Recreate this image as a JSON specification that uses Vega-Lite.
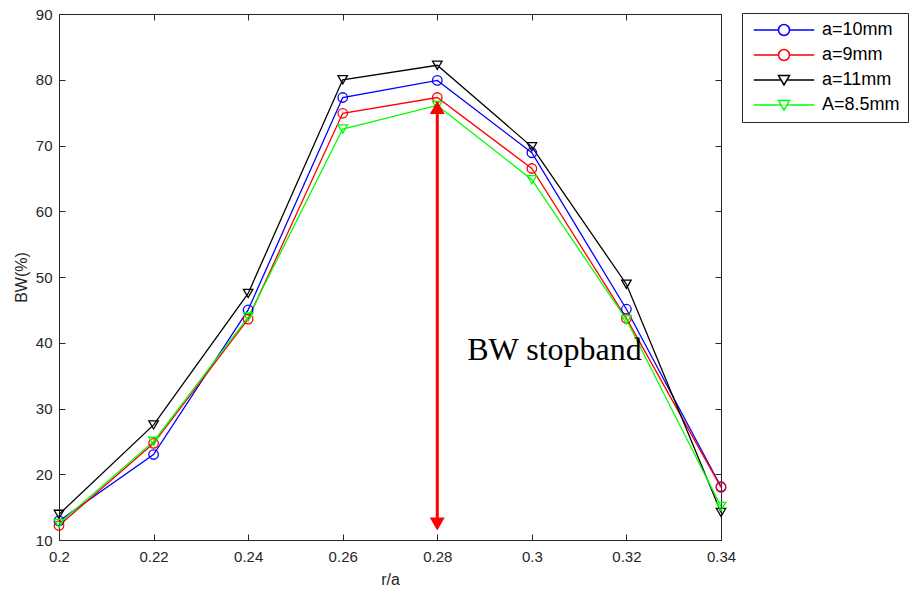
{
  "$schema": "https://vega.github.io/schema/vega-lite/v6.json",
  "autosize": "none",
  "width": 662,
  "height": 526,
  "padding": {"left": 59, "top": 14, "right": 190, "bottom": 50},
  "background": "white",
  "config": {
    "view": {"stroke": "#262626", "strokeWidth": 1},
    "axis": {
      "domainColor": "#262626", "tickColor": "#262626", "labelColor": "#262626", "titleColor": "#262626",
      "labelFont": "Liberation Sans", "titleFont": "Liberation Sans", "labelFontSize": 15, "titleFontSize": 16,
      "titleFontWeight": "normal", "grid": false, "tickSize": -6, "domainWidth": 1, "tickWidth": 1
    }
  },
  "datasets": {
    "bw": [
      {"x": 0.20, "y": 12.9, "s": "a=10mm"}, {"x": 0.22, "y": 23.0, "s": "a=10mm"}, {"x": 0.24, "y": 45.0, "s": "a=10mm"}, {"x": 0.26, "y": 77.3, "s": "a=10mm"},
      {"x": 0.28, "y": 79.9, "s": "a=10mm"}, {"x": 0.30, "y": 68.9, "s": "a=10mm"}, {"x": 0.32, "y": 45.1, "s": "a=10mm"}, {"x": 0.34, "y": 18.1, "s": "a=10mm"},
      {"x": 0.20, "y": 12.2, "s": "a=9mm"}, {"x": 0.22, "y": 24.7, "s": "a=9mm"}, {"x": 0.24, "y": 43.6, "s": "a=9mm"}, {"x": 0.26, "y": 74.9, "s": "a=9mm"},
      {"x": 0.28, "y": 77.3, "s": "a=9mm"}, {"x": 0.30, "y": 66.5, "s": "a=9mm"}, {"x": 0.32, "y": 43.7, "s": "a=9mm"}, {"x": 0.34, "y": 18.0, "s": "a=9mm"},
      {"x": 0.20, "y": 13.9, "s": "a=11mm"}, {"x": 0.22, "y": 27.5, "s": "a=11mm"}, {"x": 0.24, "y": 47.5, "s": "a=11mm"}, {"x": 0.26, "y": 80.0, "s": "a=11mm"},
      {"x": 0.28, "y": 82.2, "s": "a=11mm"}, {"x": 0.30, "y": 69.8, "s": "a=11mm"}, {"x": 0.32, "y": 48.9, "s": "a=11mm"}, {"x": 0.34, "y": 14.2, "s": "a=11mm"},
      {"x": 0.20, "y": 12.5, "s": "A=8.5mm"}, {"x": 0.22, "y": 25.0, "s": "A=8.5mm"}, {"x": 0.24, "y": 43.9, "s": "A=8.5mm"}, {"x": 0.26, "y": 72.5, "s": "A=8.5mm"},
      {"x": 0.28, "y": 76.1, "s": "A=8.5mm"}, {"x": 0.30, "y": 64.8, "s": "A=8.5mm"}, {"x": 0.32, "y": 43.5, "s": "A=8.5mm"}, {"x": 0.34, "y": 15.1, "s": "A=8.5mm"}
    ],
    "arrow": [{"x": 0.28, "y": 12.45, "y2": 75.78}],
    "heads": [{"x": 0.28, "y": 75.78, "dir": "up"}, {"x": 0.28, "y": 12.45, "dir": "down"}],
    "label": [{"x": 0.28634, "y": 37.4, "t": "BW stopband"}]
  },
  "resolve": {"axis": {"x": "independent", "y": "independent"}, "scale": {"shape": "independent"}},
  "layer": [
    {
      "data": {"name": "bw"},
      "mark": {"type": "line", "strokeWidth": 1.3, "clip": false},
      "encoding": {
        "x": {"field": "x", "type": "quantitative", "scale": {"domain": [0.2, 0.34], "nice": false, "zero": false},
              "axis": {"values": [0.2, 0.22, 0.24, 0.26, 0.28, 0.3, 0.32, 0.34], "format": ".2~f", "title": "r/a", "labelPadding": 15, "titlePadding": 7, "labelFlush": false}},
        "y": {"field": "y", "type": "quantitative", "scale": {"domain": [10, 90], "nice": false, "zero": false},
              "axis": {"values": [10, 20, 30, 40, 50, 60, 70, 80, 90], "title": "BW(%)", "labelPadding": 13, "titlePadding": 6, "labelFlush": false}},
        "color": {
          "field": "s", "type": "nominal",
          "scale": {"domain": ["a=10mm", "a=9mm", "a=11mm", "A=8.5mm"], "range": ["#0000FF", "#FF0000", "#000000", "#00FF00"]},
          "legend": {
            "title": null, "orient": "none", "legendX": 683, "legendY": -1,
            "strokeColor": "#262626", "fillColor": "white", "padding": 8,
            "symbolSize": 121, "symbolOffset": 25, "labelOffset": 29, "rowPadding": 7,
            "labelFont": "Liberation Sans", "labelFontSize": 18, "labelColor": "#000000",
            "symbolStrokeWidth": 1.5,
            "encode": {
              "symbols": {"update": {
                "shape": {"signal": "indexof(['a=10mm','a=9mm'], datum.value) >= 0 ? 'M-5.5,0H-1M1,0H5.5M-1,0A1,1 0 1,0 1,0A1,1 0 1,0 -1,0' : 'M-5.5,0H-0.55M0.55,0H5.5M-1,-0.8H1L0,0.9Z'"},
                "fill": {"value": "transparent"},
                "stroke": {"scale": "color", "field": "value"},
                "strokeWidth": {"value": 1.5}
              }}
            }
          }
        }
      }
    },
    {
      "data": {"name": "bw"},
      "mark": {"type": "point", "filled": false, "size": 90, "strokeWidth": 1.3, "opacity": 1, "clip": false},
      "encoding": {
        "x": {"field": "x", "type": "quantitative", "axis": null},
        "y": {"field": "y", "type": "quantitative", "axis": null},
        "color": {"field": "s", "type": "nominal", "legend": null},
        "shape": {"field": "s", "type": "nominal", "legend": null,
                  "scale": {"domain": ["a=10mm", "a=9mm", "a=11mm", "A=8.5mm"], "range": ["circle", "circle", "triangle-down", "triangle-down"]}}
      }
    },
    {
      "data": {"name": "arrow"},
      "mark": {"type": "rule", "color": "#FF0000", "strokeWidth": 3},
      "encoding": {
        "x": {"field": "x", "type": "quantitative", "axis": null},
        "y": {"field": "y", "type": "quantitative", "axis": null},
        "y2": {"field": "y2"}
      }
    },
    {
      "data": {"name": "heads"},
      "mark": {"type": "point", "filled": true, "size": 225, "color": "#FF0000", "opacity": 1},
      "encoding": {
        "x": {"field": "x", "type": "quantitative", "axis": null},
        "y": {"field": "y", "type": "quantitative", "axis": null},
        "shape": {"field": "dir", "type": "nominal", "legend": null,
                  "scale": {"domain": ["up", "down"], "range": ["triangle-up", "triangle-down"]}}
      }
    },
    {
      "data": {"name": "label"},
      "mark": {"type": "text", "font": "Liberation Serif", "fontSize": 32, "align": "left", "baseline": "alphabetic", "color": "#000000"},
      "encoding": {
        "x": {"field": "x", "type": "quantitative", "axis": null},
        "y": {"field": "y", "type": "quantitative", "axis": null},
        "text": {"field": "t"}
      }
    },
    {
      "data": {"name": "bw"},
      "mark": {"type": "point", "opacity": 0},
      "encoding": {
        "x": {"field": "x", "type": "quantitative",
              "axis": {"orient": "top", "values": [0.2, 0.22, 0.24, 0.26, 0.28, 0.3, 0.32, 0.34], "labels": false, "title": null, "domain": false}},
        "y": {"field": "y", "type": "quantitative",
              "axis": {"orient": "right", "values": [10, 20, 30, 40, 50, 60, 70, 80, 90], "labels": false, "title": null, "domain": false}}
      }
    }
  ]
}
